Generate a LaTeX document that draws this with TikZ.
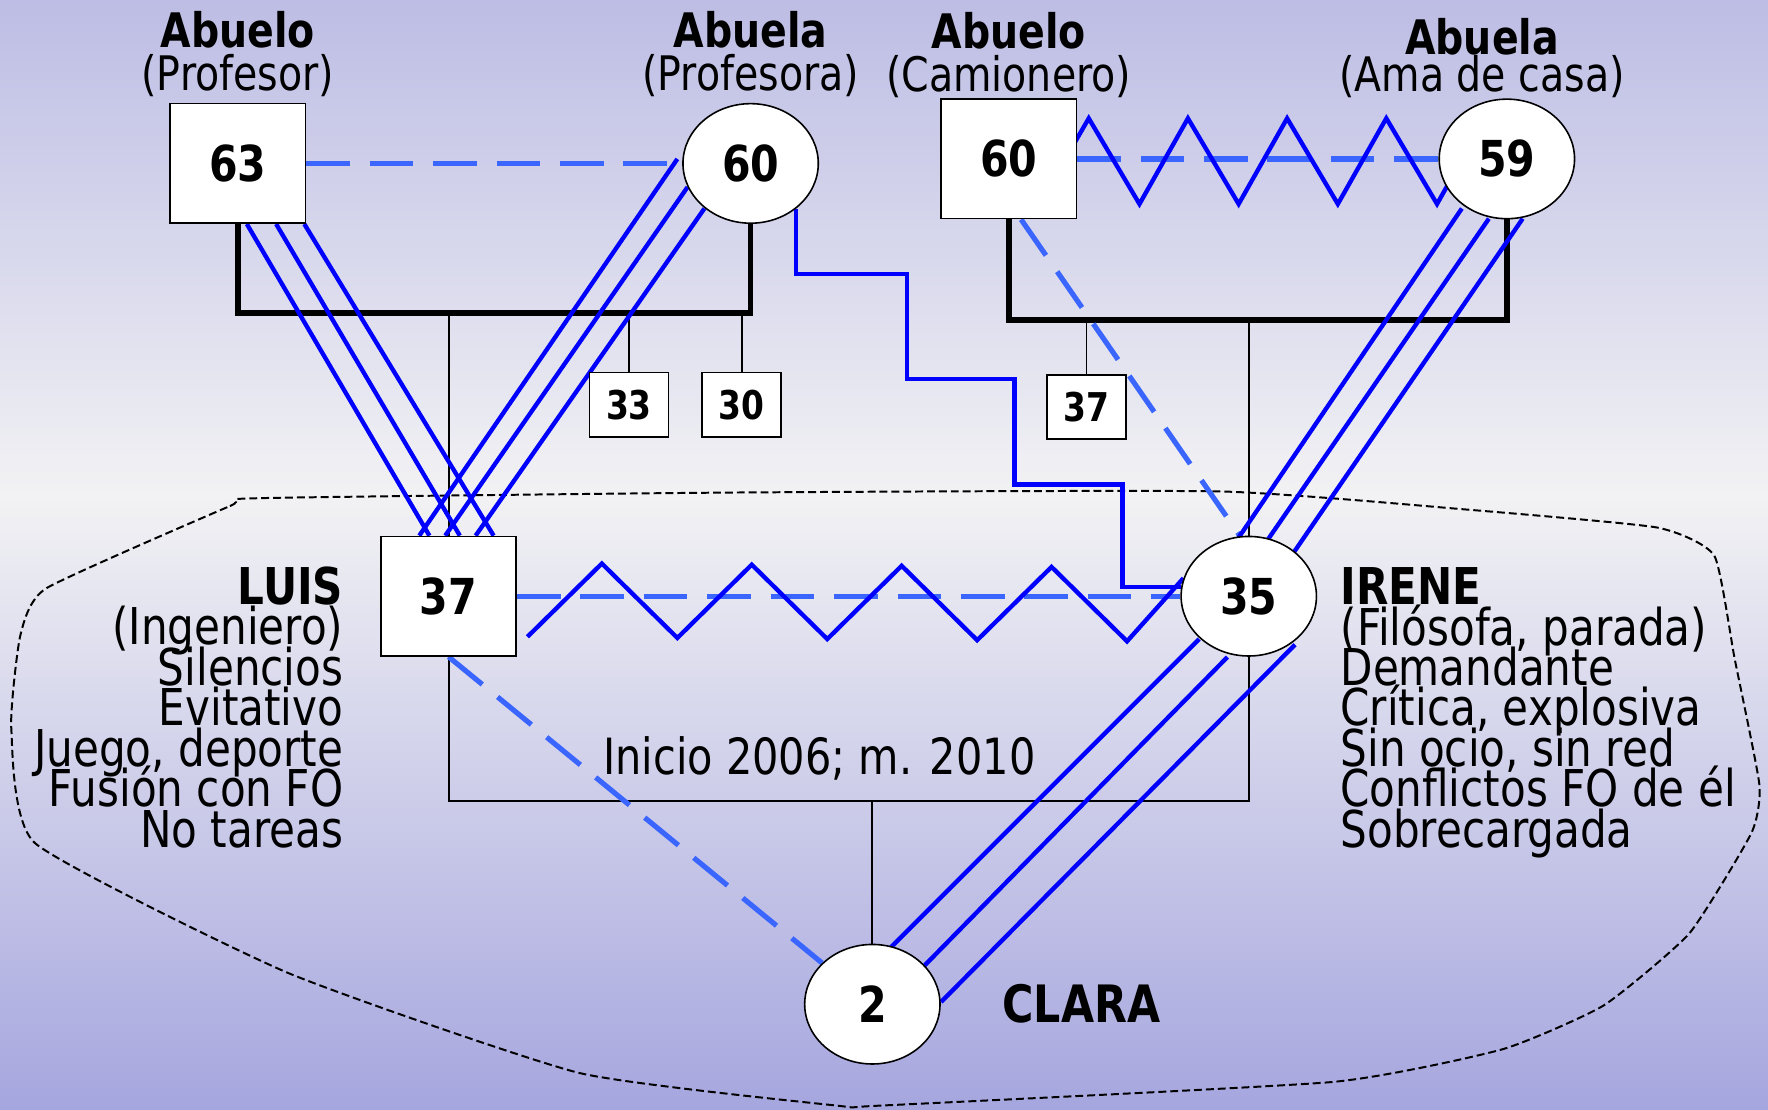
\documentclass[tikz,border=0pt]{standalone}
\usepackage{fontspec}
\setmainfont{DejaVu Sans}[FakeStretch=0.83]
\usetikzlibrary{shapes.geometric,positioning}
\pgfdeclarelayer{back}
\pgfdeclarelayer{lines}
\pgfsetlayers{back,lines,main}
\definecolor{lilatop}{RGB}{189,189,229}
\definecolor{whitish}{RGB}{242,242,244}
\definecolor{lilabot}{RGB}{166,166,223}
\definecolor{dashblue}{RGB}{58,102,255}
\newcommand{\tightlines}{\lineskiplimit=-100pt\relax}
\tikzset{
  man/.style={draw, fill=white, minimum width=1.2cm, minimum height=1.06cm, font=\bfseries\fontsize{12.5}{14}\selectfont},
  woman/.style={draw, ellipse, fill=white, minimum width=1.2cm, minimum height=1.06cm, inner sep=0pt, font=\bfseries\fontsize{12.5}{14}\selectfont},
  kid/.style={draw, fill=white, minimum width=0.7cm, minimum height=0.57cm, font=\bfseries\fontsize{10}{11}\selectfont},
  tag/.style={align=center, inner sep=0pt, font={\fontsize{12}{10.8}\selectfont\tightlines}},
  info/.style={inner sep=0pt, font={\fontsize{12.8}{10.2}\selectfont\tightlines}},
  tie/.style={draw=blue, line width=1.1pt},
  distant/.style={draw=dashblue, line width=1.3pt, dash pattern=on 11pt off 5pt},
  couple/.style={draw=black, line width=1.4pt},
  child/.style={draw=black, line width=0.5pt},
}
\begin{document}
\begin{tikzpicture}[x=0.01cm, y=-0.01cm]
\useasboundingbox (0,0) rectangle (1568.7,984);

% background and household
\begin{pgfonlayer}{back}
  \shade[top color=lilatop, bottom color=whitish] (0,0) rectangle (1568.7,440);
  \shade[top color=whitish, bottom color=lilabot] (0,440) rectangle (1568.7,984);
  \draw[line width=0.5pt, dash pattern=on 2pt off 1pt] plot[smooth cycle, tension=0.3] coordinates {
    (41,522) (204,449) (230,442) (650,437) (1082,436) (1300,452) (1470,468)
    (1521,493) (1539,584) (1561,696) (1554,739) (1499,828) (1423,892)
    (1333,931) (1182,960) (780,981) (743,981) (514,952) (255,863)
    (31,748) (10,646) (18,564)};
\end{pgfonlayer}

% grandparents
\node[man] (G1) at (211,145) {63};
\node[woman] (G2) at (666,145) {60};
\node[man] (G3) at (895,141) {60};
\node[woman] (G4) at (1337,141) {59};

\node[tag, above=0.05cm of G1] (tG1) {{\bfseries Abuelo}\\(Profesor)};
\node[tag, above=0.05cm of G2] (tG2) {{\bfseries Abuela}\\(Profesora)};
\node[tag, above=0cm of G3] (tG3) {{\bfseries Abuelo}\\(Camionero)};
\node[tag, above=0cm of G4, xshift=-0.22cm] (tG4) {{\bfseries Abuela}\\[-1.5pt](Ama de casa)};

% siblings
\node[kid] (K33) at (558,359) {33};
\node[kid] (K30) at (658,359) {30};
\node[kid] (K37) at (964,361) {37};

% couple and daughter
\node[man] (LUIS) at (398,529) {37};
\node[woman] (IRENE) at (1108,529) {35};
\node[woman] (CLARA) at (774,891) {2};

\node[info, anchor=north east, align=right] (tLUIS) at ([shift={(-32,27)}]LUIS.north west)
  {{\bfseries LUIS}\\(Ingeniero)\\Silencios\\Evitativo\\Juego, deporte\\Fusión con FO\\No tareas};
\node[info, anchor=north west, align=left] (tIRENE) at ([shift={(20,-26)}]IRENE.east)
  {{\bfseries IRENE}\\(Filósofa, parada)\\Demandante\\Crítica, explosiva\\Sin ocio, sin red\\Conflictos FO de él\\Sobrecargada};
\node[info, font=\bfseries\fontsize{13}{14}\selectfont, right=0.54cm of CLARA] (tCLARA) {CLARA};
\node[info, font=\fontsize{12.6}{14}\selectfont] (tmar) at (727,673) {Inicio 2006; m. 2010};

\begin{pgfonlayer}{lines}
  % family lines
  \draw[couple] (G1.south) -- ++(0,79) coordinate (m1) -| (G2.south);
  \draw[couple] (G3.south) -- ++(0,89) coordinate (m2) -| (G4.south);
  \draw[child] (LUIS.south) -- ++(0,128) coordinate (m3) -| (IRENE.south);
  \draw[child] (LUIS.north) -- (LUIS.north |- m1);
  \draw[child] (K33.north) -- (K33.north |- m1);
  \draw[child] (K30.north) -- (K30.north |- m1);
  \draw[child] (IRENE.north) -- (IRENE.north |- m2);
  \draw[child] (K37.north) -- (K37.north |- m2);
  \draw[child] (CLARA.north) -- (CLARA.north |- m3);

  % distant relations
  \draw[distant] (G1.east) -- (G2.west);
  \draw[distant] (G3.east) -- (G4.west);
  \draw[distant] (LUIS.east) -- (IRENE.west);
  \draw[distant] (LUIS.south) -- (CLARA);
  \draw[distant] ([shift={(11,0)}]G3.south) -- ([shift={(-8,0)}]IRENE.north);

  % conflict
  \draw[tie] (944,143) -- (966,105)
    \foreach \i in {1,...,4} { -- ++(45,76) -- ++(43,-76) };
  \draw[tie] (468,565)
    \foreach \i in {1,...,4} { -- ++(66,-65) -- ++(67,66) } -- ++(50,-56);
  \draw[tie] (G2.-45) |- (805,243) |- (900,336) |- (996,430) |- (IRENE.172);

  % fused
  \foreach \a/\b in {8/-17, 34/10, 59/40}
    \draw[tie] ([shift={(\a,0)}]G1.south) -- ([shift={(\b,0)}]LUIS.north);
  \foreach \a/\b/\c in {-65/-4/-26, -56/21/-3, -41/40/24}
    \draw[tie] ([shift={(\a,\b)}]G2.center) -- ([shift={(\c,0)}]LUIS.north);
  \foreach \a/\b/\c/\d in {-40/44/-9/-52, -16/53/14/-46, 14/53/40/-39}
    \draw[tie] ([shift={(\a,\b)}]G4.center) -- ([shift={(\c,\d)}]IRENE.center);
  \foreach \a/\b/\c/\d in {-44/38/16/-50, -19/54/46/-34, 41/43/61/-2}
    \draw[tie] ([shift={(\a,\b)}]IRENE.center) -- ([shift={(\c,\d)}]CLARA.center);
\end{pgfonlayer}
\end{tikzpicture}
\end{document}
